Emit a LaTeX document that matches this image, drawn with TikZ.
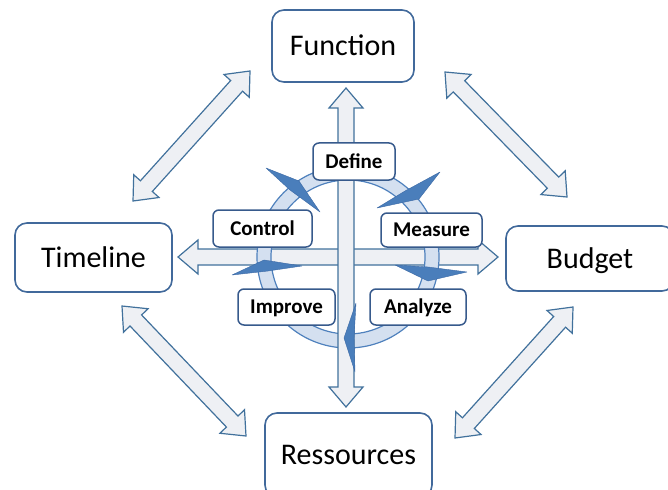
\documentclass[tikz,border=0pt]{standalone}
\usepackage{fontspec}
\setmainfont{Carlito}
\usetikzlibrary{calc}

\tikzset{
  bigbox/.style={rectangle,rounded corners=12pt,draw={rgb,255:red,65;green,105;blue,155},line width=1.6pt,fill=white,
    font=\fontsize{30}{36}\selectfont,inner sep=0pt,text height=19.3pt,text depth=0pt},
  tag/.style={rectangle,rounded corners=6pt,draw={rgb,255:red,55;green,90;blue,140},line width=1.5pt,fill=white,
    font=\bfseries\fontsize{21}{25}\selectfont,inner sep=0pt,text height=13.5pt,text depth=0pt},
  fatarrow/.style={fill={rgb,255:red,238;green,240;blue,244},draw={rgb,255:red,65;green,113;blue,156},line width=1.2pt},
  ring/.style={fill={rgb,255:red,212;green,224;blue,240},draw={rgb,255:red,79;green,129;blue,189},line width=1.2pt,even odd rule},
  spike/.style={fill={rgb,255:red,74;green,126;blue,187},draw={rgb,255:red,60;green,105;blue,165},line width=0.4pt,line join=round}
}

% block arrow with a head at both ends
\newcommand{\dblarrow}[2]{%
  \draw[fatarrow] (#1)
    -- ($(#1)!20pt!(#2)!17pt!90:(#2)$)
    -- ($(#1)!20pt!(#2)!8pt!90:(#2)$)
    -- ($(#2)!20pt!(#1)!8pt!-90:(#1)$)
    -- ($(#2)!20pt!(#1)!17pt!-90:(#1)$)
    -- (#2)
    -- ($(#2)!20pt!(#1)!17pt!90:(#1)$)
    -- ($(#2)!20pt!(#1)!8pt!90:(#1)$)
    -- ($(#1)!20pt!(#2)!8pt!-90:(#2)$)
    -- ($(#1)!20pt!(#2)!17pt!-90:(#2)$)
    -- cycle;}

\begin{document}
\begin{tikzpicture}[x=1pt,y=-1pt]
    \useasboundingbox (0,0) rectangle (668,489);
    \clip (0,0) rectangle (668,489);

    \node[bigbox,minimum width=142pt,minimum height=72pt] at (343,46) (function) {Function};
    \node[bigbox,minimum width=157pt,minimum height=69pt] at (93.5,257.5) (timeline) {Timeline};
    \node[bigbox,minimum width=168pt,minimum height=65pt] at (590,258.5) (budget) {Budget};
    \node[bigbox,minimum width=167pt,minimum height=84pt] at (348.5,455) (ressources) {Ressources};

    %arrow ends
    \coordinate (tl1) at (133,201);  \coordinate (tl2) at (250,71);
    \coordinate (tr1) at (445,72);   \coordinate (tr2) at (567,197);
    \coordinate (bl1) at (122,306);  \coordinate (bl2) at (246,436);
    \coordinate (br1) at (573,307);  \coordinate (br2) at (455,438);
    \coordinate (h1) at (178,257);   \coordinate (h2) at (498,257);
    \coordinate (v1) at (346,88);    \coordinate (v2) at (346,407);

    \dblarrow{tl1}{tl2}
    \dblarrow{tr1}{tr2}
    \dblarrow{bl1}{bl2}
    \dblarrow{br1}{br2}
    \dblarrow{h1}{h2}

    \coordinate (hub) at (348,257);
    \filldraw[ring] (hub) circle[radius=91] (hub) circle[radius=77];

    \dblarrow{v1}{v2}

    \filldraw[spike] (266,168) -- (299,181) -- (320,212) -- (290,190) -- cycle;
    \filldraw[spike] (440,172) -- (419,199) -- (377,208) -- (405,191) -- cycle;
    \filldraw[spike] (395,265) -- (428,267) -- (467,272) -- (428,281) -- cycle;
    \filldraw[spike] (232,275) -- (264,260) -- (302,266) -- (268,271) -- cycle;
    \filldraw[spike] (356,303) -- (354,338) -- (355,372) -- (344,338) -- cycle;

    \node[tag,minimum width=82pt,minimum height=37pt] at (354,161.5) (define) {Define};
    \node[tag,minimum width=99pt,minimum height=37pt] at (262.5,228.5) (control) {Control};
    \node[tag,minimum width=101pt,minimum height=34pt] at (431.5,230) (measure) {Measure};
    \node[tag,minimum width=97pt,minimum height=36pt] at (286.5,307) (improve) {Improve};
    \node[tag,minimum width=96pt,minimum height=36pt] at (418,307) (analyze) {Analyze};
\end{tikzpicture}
\end{document}
